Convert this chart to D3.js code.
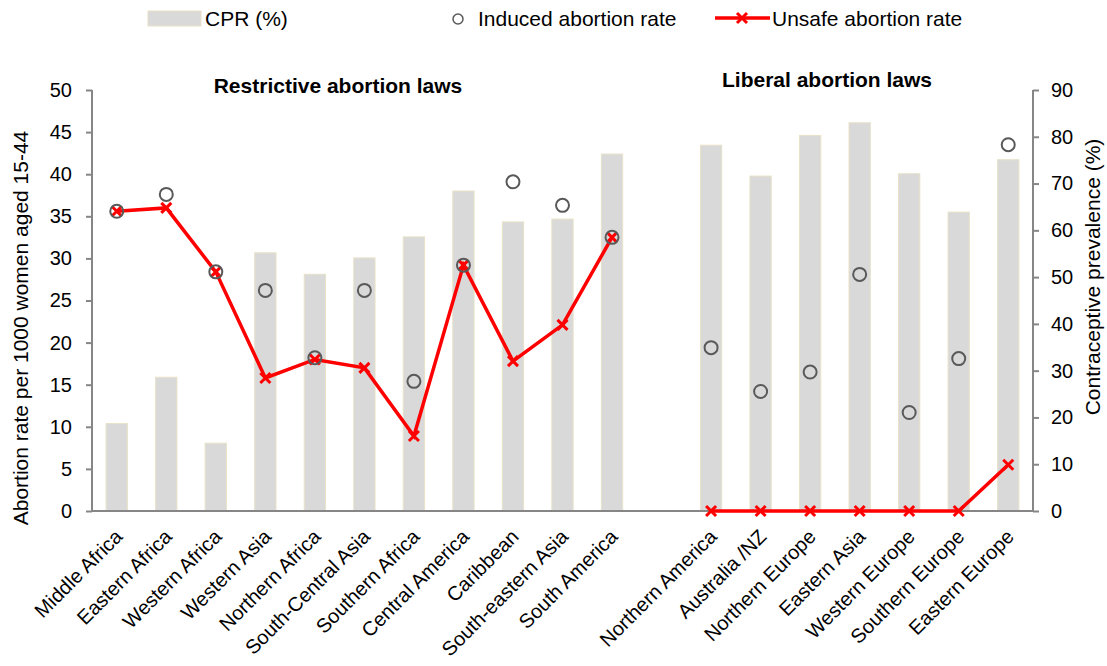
<!DOCTYPE html>
<html>
<head>
<meta charset="utf-8">
<script src="https://cdn.jsdelivr.net/npm/d3@7"></script>
<style>
  body { margin: 0; background: #fff; }
  svg text { font-family: "Liberation Sans", Arial, sans-serif; fill: #000; }
</style>
</head>
<body>
<div id="chart"></div>
<script>
const restrictive = ['Middle Africa', 'Eastern Africa', 'Western Africa', 'Western Asia', 'Northern Africa',
  'South-Central Asia', 'Southern Africa', 'Central America', 'Caribbean', 'South-eastern Asia', 'South America'];
const liberal = ['Northern America', 'Australia /NZ', 'Northern Europe', 'Eastern Asia', 'Western Europe',
  'Southern Europe', 'Eastern Europe'];

const cprRestrictive = [18.7, 28.6, 14.5, 55.2, 50.6, 54.1, 58.6, 68.4, 61.8, 62.4, 76.3];
const cprLiberal = [78.2, 71.6, 80.3, 83.0, 72.1, 63.9, 75.1];
const inducedRestrictive = [35.6, 37.6, 28.4, 26.2, 18.2, 26.2, 15.4, 29.2, 39.1, 36.3, 32.5];
const inducedLiberal = [19.4, 14.2, 16.5, 28.1, 11.7, 18.1, 43.5];
const unsafeRestrictive = [35.6, 36.0, 28.4, 15.8, 18.0, 17.0, 8.9, 29.2, 17.8, 22.1, 32.5];
const unsafeLiberal = [0, 0, 0, 0, 0, 0, 5.5];

const leftTicks = [0, 5, 10, 15, 20, 25, 30, 35, 40, 45, 50];
const rightTicks = [0, 10, 20, 30, 40, 50, 60, 70, 80, 90];

const W = 1107, H = 666;
const margin = { top: 90, right: 74, bottom: 155, left: 92 };
const width = W - margin.left - margin.right;
const height = H - margin.top - margin.bottom;

const svg = d3.select('#chart').append('svg')
  .attr('width', W).attr('height', H);
const g = svg.append('g').attr('transform', `translate(${margin.left},${margin.top})`);

// empty slot between the two groups
const domain = [...restrictive, '__gap__', ...liberal];
const x = d3.scaleBand().domain(domain).range([0, width]).paddingInner(0.57).paddingOuter(0.285);
const yL = d3.scaleLinear().domain([0, 50]).range([height, 0]);
const yR = d3.scaleLinear().domain([0, 90]).range([height, 0]);

const groups = [
  { names: restrictive, cpr: cprRestrictive, induced: inducedRestrictive, unsafe: unsafeRestrictive },
  { names: liberal, cpr: cprLiberal, induced: inducedLiberal, unsafe: unsafeLiberal }
];

// bars
groups.forEach(grp => {
  g.selectAll(null).data(grp.names).enter().append('rect')
    .attr('x', d => x(d))
    .attr('y', (d, i) => yR(grp.cpr[i]))
    .attr('width', x.bandwidth())
    .attr('height', (d, i) => height - yR(grp.cpr[i]))
    .attr('fill', '#d9d9d9')
    .attr('stroke', '#e8e2c8')
    .attr('stroke-width', 1);
});

// axes
const axisColor = '#868686';
const gl = g.append('g').call(d3.axisLeft(yL).tickValues(leftTicks).tickSize(6).tickPadding(14));
const gr = g.append('g').attr('transform', `translate(${width},0)`)
  .call(d3.axisRight(yR).tickValues(rightTicks).tickSize(6).tickPadding(12));
[gl, gr].forEach(a => {
  a.selectAll('path, line').attr('stroke', axisColor).attr('stroke-width', 2);
  a.selectAll('text').style('font-size', '20px').attr('fill', '#000');
});
gl.select('.domain').attr('d', `M0,0V${height}`);
gr.select('.domain').attr('d', `M0,0V${height}`);

g.append('line').attr('x1', 0).attr('x2', width).attr('y1', height).attr('y2', height)
  .attr('stroke', axisColor).attr('stroke-width', 2);

// category labels
const cx = d => x(d) + x.bandwidth() / 2;
g.selectAll(null).data(restrictive.concat(liberal)).enter().append('text')
  .attr('transform', d => `translate(${cx(d) + 2},${height + 22}) rotate(-45)`)
  .attr('text-anchor', 'end')
  .attr('dy', '0.35em')
  .style('font-size', '20px')
  .text(d => d);

// unsafe line + markers
const line = d3.line().x(d => cx(d.name)).y(d => yL(d.v));
const crossPath = 'M-5,-5L5,5M-5,5L5,-5';
groups.forEach(grp => {
  const pts = grp.names.map((n, i) => ({ name: n, v: grp.unsafe[i] }));
  g.append('path').datum(pts).attr('d', line)
    .attr('fill', 'none').attr('stroke', '#ff0000').attr('stroke-width', 3.5);
  g.selectAll(null).data(pts).enter().append('path')
    .attr('transform', d => `translate(${cx(d.name)},${yL(d.v)})`)
    .attr('d', crossPath).attr('stroke', '#ff0000').attr('stroke-width', 3);
});

// induced circles
groups.forEach(grp => {
  g.selectAll(null).data(grp.names).enter().append('circle')
    .attr('cx', d => cx(d))
    .attr('cy', (d, i) => yL(grp.induced[i]))
    .attr('r', 6.5)
    .attr('fill', 'none')
    .attr('stroke', '#595959')
    .attr('stroke-width', 2);
});

// group titles
svg.append('text').attr('x', 338).attr('y', 93)
  .attr('text-anchor', 'middle').style('font-size', '21px').style('font-weight', 'bold')
  .text('Restrictive abortion laws');
svg.append('text').attr('x', 827).attr('y', 87)
  .attr('text-anchor', 'middle').style('font-size', '21px').style('font-weight', 'bold')
  .text('Liberal abortion laws');

// axis titles
svg.append('text')
  .attr('transform', 'translate(28,328) rotate(-90)')
  .attr('text-anchor', 'middle').style('font-size', '21px')
  .text('Abortion rate per 1000 women aged 15-44');
svg.append('text')
  .attr('transform', 'translate(1100,277) rotate(-90)')
  .attr('text-anchor', 'middle').style('font-size', '21px')
  .text('Contraceptive prevalence (%)');

// legend
const lg = svg.append('g');
lg.append('rect').attr('x', 148).attr('y', 11).attr('width', 53).attr('height', 15)
  .attr('fill', '#d9d9d9').attr('stroke', '#e8e2c8');
lg.append('text').attr('x', 205).attr('y', 26).style('font-size', '21px').text('CPR (%)');
lg.append('circle').attr('cx', 458).attr('cy', 19).attr('r', 5)
  .attr('fill', 'none').attr('stroke', '#595959').attr('stroke-width', 1.5);
lg.append('text').attr('x', 478).attr('y', 26).style('font-size', '21px').text('Induced abortion rate');
lg.append('line').attr('x1', 715).attr('x2', 770).attr('y1', 18).attr('y2', 18)
  .attr('stroke', '#ff0000').attr('stroke-width', 3.5);
lg.append('path').attr('transform', 'translate(742,18)').attr('d', crossPath)
  .attr('stroke', '#ff0000').attr('stroke-width', 3);
lg.append('text').attr('x', 772).attr('y', 26).style('font-size', '21px').text('Unsafe abortion rate');
</script>
</body>
</html>
